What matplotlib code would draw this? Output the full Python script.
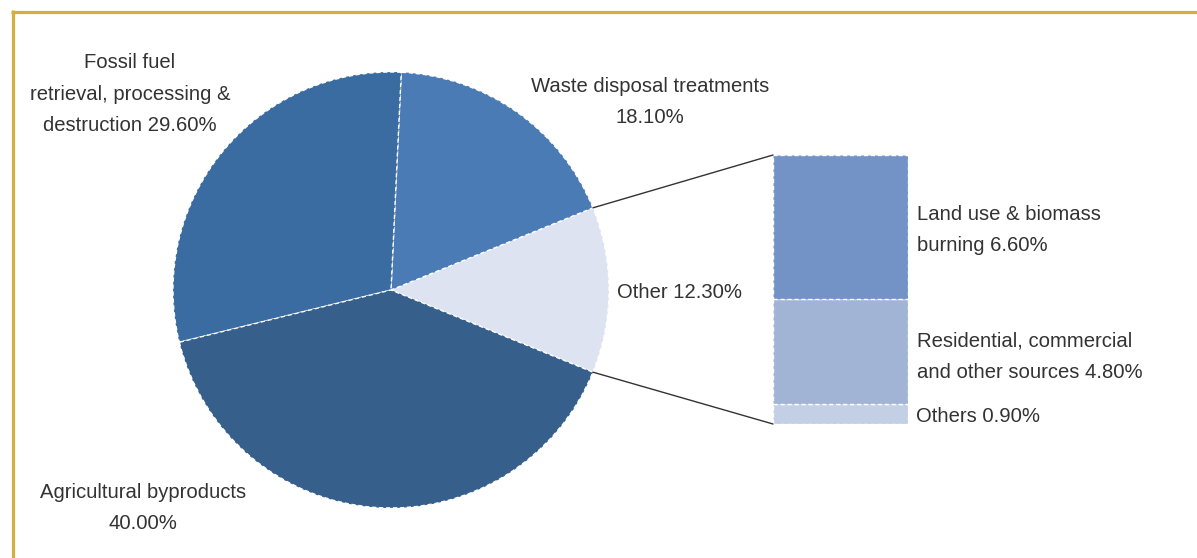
import matplotlib
matplotlib.use("Agg")
import matplotlib.pyplot as plt
from matplotlib.patches import ConnectionPatch
import numpy as np

plt.rcParams['font.family'] = ['Liberation Sans', 'DejaVu Sans']

# Data
pie_labels = ["Other", "Waste disposal treatments", "Fossil fuel retrieval, processing & destruction", "Agricultural byproducts"]
pie_values = [12.3, 18.1, 29.6, 40.0]
pie_colors = ["#dde3f0", "#4a7bb5", "#3a6ca2", "#365f8b"]

bar_labels = ["Others", "Residential, commercial and other sources", "Land use & biomass burning"]
bar_values = [0.9, 4.8, 6.6]
bar_colors = ["#c3cfe5", "#a2b4d5", "#7393c7"]

W, H = 1197, 558
fig = plt.figure(figsize=(W / 100, H / 100), dpi=100)

# background axes in pixel coordinates
bg = fig.add_axes([0, 0, 1, 1])
bg.set_xlim(0, W)
bg.set_ylim(H, 0)
bg.axis('off')
gold = "#d6ae3e"
bg.plot([11, W], [11.5, 11.5], color=gold, lw=2.3, solid_capstyle='butt')
bg.plot([12.5, 12.5], [10, H], color=gold, lw=2.3, solid_capstyle='butt')

# pie axes
cx, cy, r = 391, 290, 218
pad = 222
ax_pie = fig.add_axes([(cx - pad) / W, (H - cy - pad) / H, 2 * pad / W, 2 * pad / H])
other_angle = pie_values[0] / sum(pie_values) * 360
wedges, _ = ax_pie.pie(pie_values, colors=pie_colors, startangle=-other_angle / 2,
                       counterclock=True, radius=1,
                       wedgeprops=dict(edgecolor='white', linestyle=(0, (3, 2)), linewidth=1))
ax_pie.set_xlim(-pad / r, pad / r)
ax_pie.set_ylim(-pad / r, pad / r)
ax_pie.set_aspect('auto')
ax_pie.axis('off')

# bar axes
bx0, by0, bx1, by1 = 773, 155, 908, 424
ax_bar = fig.add_axes([bx0 / W, (H - by1) / H, (bx1 - bx0) / W, (by1 - by0) / H])
bottom = 0
for v, c in zip(bar_values, bar_colors):
    ax_bar.bar(0.5, v, width=1, bottom=bottom, color=c, edgecolor='white',
               linestyle=(0, (3, 2)), linewidth=1)
    bottom += v
ax_bar.set_xlim(0, 1)
ax_bar.set_ylim(0, sum(bar_values))
ax_bar.axis('off')

# connection lines
theta = np.deg2rad(other_angle / 2)
for sgn, yb in [(1, sum(bar_values)), (-1, 0)]:
    con = ConnectionPatch(xyA=(np.cos(theta), sgn * np.sin(theta)), coordsA=ax_pie.transData,
                          xyB=(0, yb), coordsB=ax_bar.transData, color='#333333', lw=1)
    fig.add_artist(con)

tc = '#333333'
fs = 14.6
ls = 1.82
bg.text(130, 94, "Fossil fuel\nretrieval, processing &\ndestruction 29.60%", ha='center', va='center',
        fontsize=fs, color=tc, linespacing=ls)
bg.text(650, 102, "Waste disposal treatments\n18.10%", ha='center', va='center',
        fontsize=fs, color=tc, linespacing=ls)
bg.text(617, 292, "Other 12.30%", ha='left', va='center', fontsize=fs, color=tc)
bg.text(143, 508, "Agricultural byproducts\n40.00%", ha='center', va='center',
        fontsize=fs, color=tc, linespacing=ls)
bg.text(917, 230, "Land use & biomass\nburning 6.60%", ha='left', va='center',
        fontsize=fs, color=tc, linespacing=ls)
bg.text(917, 357, "Residential, commercial\nand other sources 4.80%", ha='left', va='center',
        fontsize=fs, color=tc, linespacing=ls)
bg.text(916, 416, "Others 0.90%", ha='left', va='center', fontsize=fs, color=tc)

fig.savefig("out.png", dpi=100)
